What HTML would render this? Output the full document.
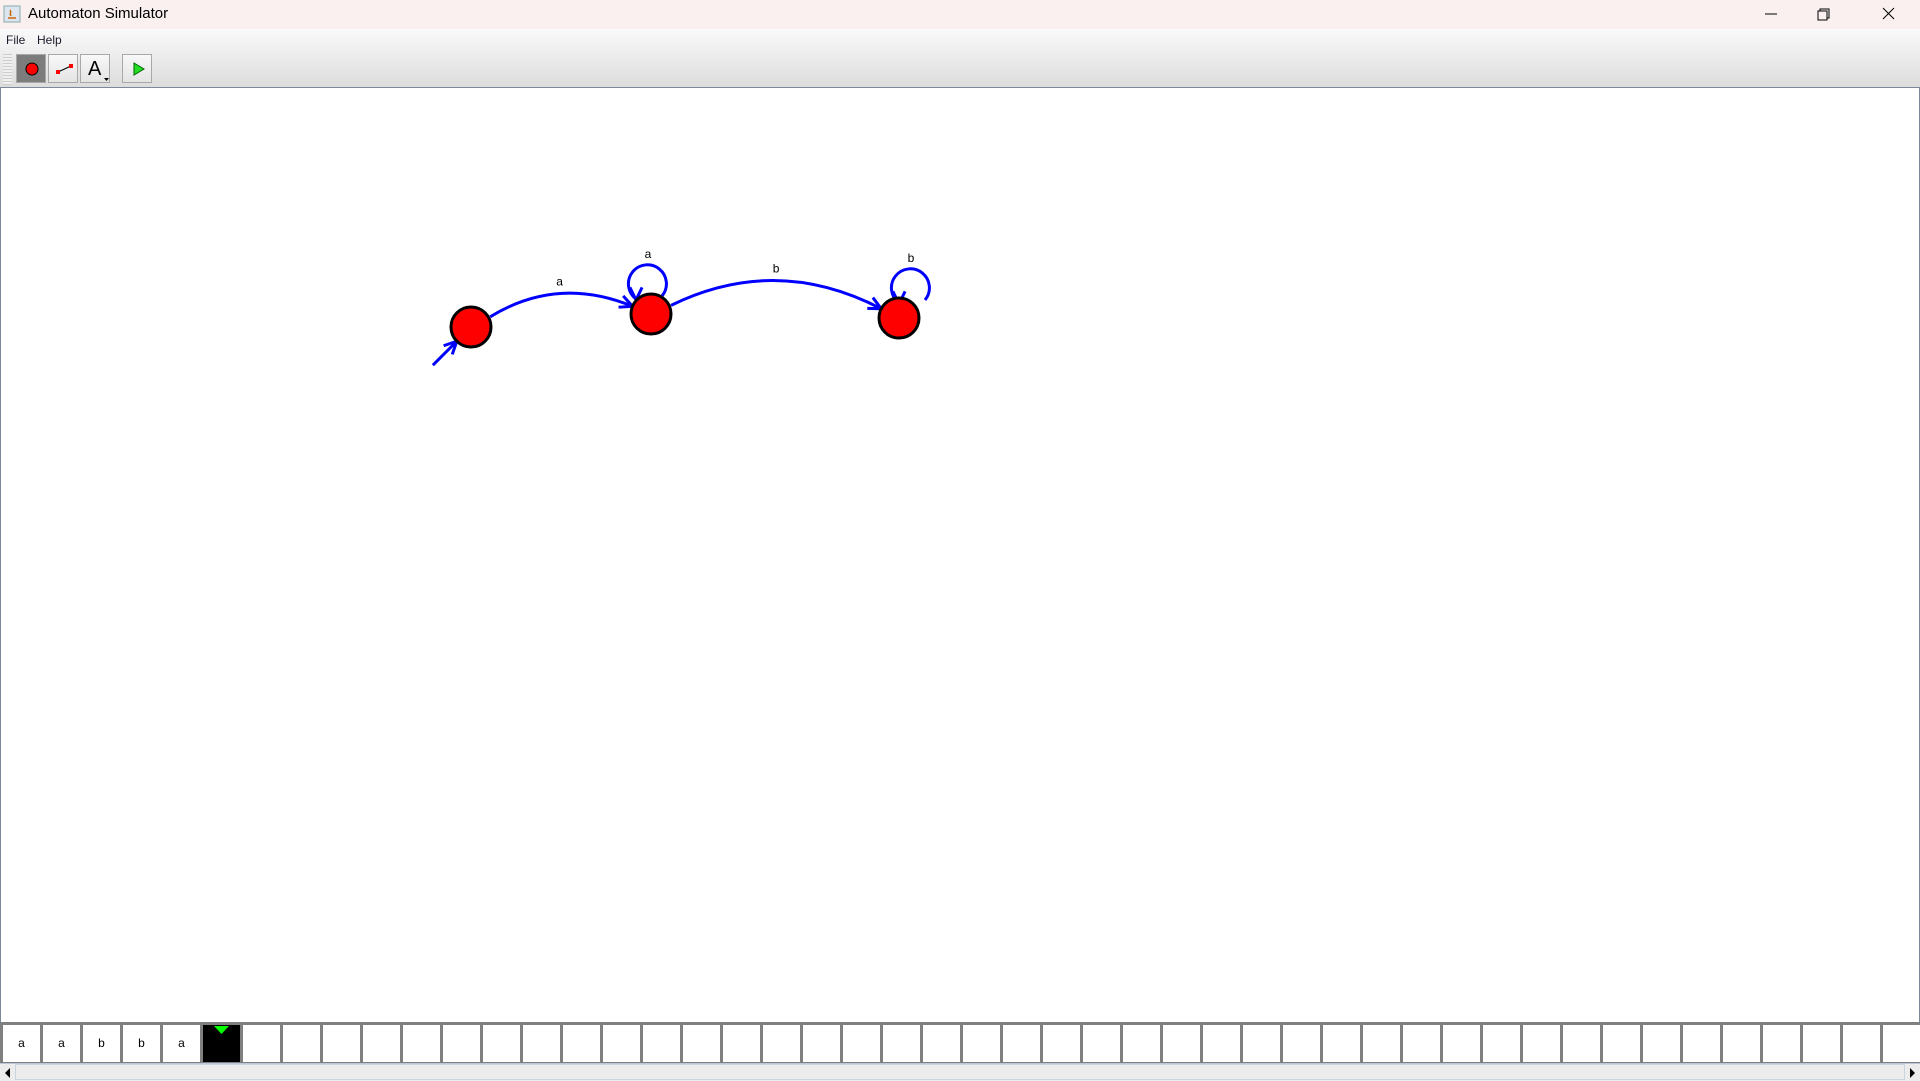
<!DOCTYPE html>
<html><head><meta charset="utf-8"><style>
html,body{margin:0;padding:0;width:1920px;height:1080px;overflow:hidden;background:#fff;font-family:"Liberation Sans",sans-serif}
#title{position:absolute;left:0;top:0;width:1920px;height:29px;background:#f9f0ef}
#title span{position:absolute;left:28px;top:5px;font-size:15px;color:#000}
#menu{position:absolute;left:0;top:29px;width:1920px;height:59px;background:linear-gradient(#fafafa,#dcdcdc)}
.mi{position:absolute;top:4px;font-size:12px;color:#1a1a2a}
.btn{position:absolute;top:54px;width:30px;height:29px;border:1px solid #a8a8a8;background:linear-gradient(#f8f8f8,#e4e4e4);box-sizing:border-box}
#canvas{position:absolute;left:0;top:87px;width:1918px;height:934px;border:1px solid #7a8a9a;border-right:2px solid #7a8a9a;background:#fff}
#tape{position:absolute;left:0;top:1022px;width:1920px;height:42px;background:#808080}
.cell{position:absolute;top:3px;width:37px;height:37px;background:#fff;font-size:12px;text-align:center;line-height:37px}
#scroll{position:absolute;left:0;top:1063px;width:1920px;height:17px;background:#ececec;border-top:1px solid #b8c8d8}
</style></head><body>
<div id="title">
 <svg style="position:absolute;left:3px;top:5px" width="18" height="18"><rect x="1" y="1" width="16" height="16" fill="#dde6f0" stroke="#8aa" /><path d="M5 13h8M7 5c2 2-1 3 1 6" stroke="#c60" fill="none" stroke-width="1.5"/></svg>
 <span>Automaton Simulator</span>
 <svg style="position:absolute;left:1760px;top:6px" width="160" height="20">
  <line x1="5" y1="8" x2="17" y2="8" stroke="#000"/>
  <g><rect x="58" y="5" width="9" height="9" fill="none" stroke="#000"/><path d="M60 5V3h9v9h-2" fill="none" stroke="#000"/></g>
  <path d="M123 2l11 11M134 2l-11 11" stroke="#000"/>
 </svg>
</div>
<div id="menu">
 <span class="mi" style="left:6px">File</span>
 <span class="mi" style="left:37px">Help</span>
 <div style="position:absolute;left:3px;top:25px;width:9px;height:31px;background:repeating-linear-gradient(#ccc 0 1px,#f0f0f0 1px 3px)"></div>
</div>
<div class="btn" style="left:16px;background:#7c7c7c"><svg width="30" height="29"><circle cx="15" cy="14" r="6" fill="#f00" stroke="#000"/></svg></div>
<div class="btn" style="left:48px"><svg width="30" height="29"><line x1="9" y1="17" x2="22" y2="11" stroke="#000"/><rect x="7" y="15" width="4" height="4" fill="#f00"/><rect x="20" y="9" width="4" height="4" fill="#f00"/></svg></div>
<div class="btn" style="left:80px"><span style="position:absolute;left:7px;top:3px;font-size:20px">A</span><svg style="position:absolute;left:0;top:0" width="30" height="29"><path d="M23 23h5l-2.5 3z" fill="#000"/></svg></div>
<div class="btn" style="left:122px"><svg width="30" height="29"><path d="M11 8l10 6-10 6z" fill="#2d2" stroke="#060"/></svg></div>
<div id="canvas"></div>
<svg id="diagram" style="position:absolute;left:0;top:0" width="1920" height="1020"></svg>
<div id="tape"></div>
<div id="scroll">
 <svg style="position:absolute;left:4px;top:4px" width="8" height="10"><path d="M6 0v10L1 5z" fill="#000"/></svg>
 <div style="position:absolute;left:15px;top:0;width:1890px;height:16px;border:1px solid #c8d4e0;box-sizing:border-box"></div>
 <svg style="position:absolute;left:1908px;top:4px" width="8" height="10"><path d="M2 0v10L7 5z" fill="#000"/></svg>
</div>
<script>
const stateX=[471,651,899];
const stateY=[327,314,318];
const edgeFrom=[0,1];
const edgeTo=[1,2];
const edgeLabels=['a','b'];
const edgeBend=[20,20];
const loopStates=[1,2];
const loopLabels=['a','b'];
const tapeSymbols=['a','a','b','b','a'];
const headPos=5;
const R=20;
const NS='http://www.w3.org/2000/svg';
const svg=document.getElementById('diagram');
function mk(t,a){const e=document.createElementNS(NS,t);for(const k in a)e.setAttribute(k,a[k]);svg.appendChild(e);return e;}
function arrowHead(tx,ty,ang){
  const p=mk('path',{d:`M${tx-14*Math.cos(ang-0.45)} ${ty-14*Math.sin(ang-0.45)}L${tx} ${ty}L${tx-14*Math.cos(ang+0.45)} ${ty-14*Math.sin(ang+0.45)}`,stroke:'#00f','stroke-width':3,fill:'none'});
  
  
}
(function(){const x=stateX[0],y=stateY[0];const a=Math.PI*0.75;
const sx=x+R*Math.cos(a),sy=y+R*Math.sin(a);
const l=mk('line',{x1:sx-24,y1:sy+24,x2:sx,y2:sy,stroke:'#00f','stroke-width':3});


arrowHead(sx,sy,-Math.PI/4);})();
edgeFrom.forEach((f,i)=>{
  const t=edgeTo[i];const x1=stateX[f],y1=stateY[f],x2=stateX[t],y2=stateY[t];
  const dx=x2-x1,dy=y2-y1,d=Math.hypot(dx,dy),ux=dx/d,uy=dy/d;
  const nx=uy,ny=-ux;const b=edgeBend[i]*d/160;
  const mx=(x1+x2)/2+nx*b*2,my=(y1+y2)/2+ny*b*2;
  let a1=Math.atan2(my-y1,mx-x1),a2=Math.atan2(y2-my,x2-mx);
  const sx=x1+R*Math.cos(a1)+2,sy=y1+R*Math.sin(a1),ex=x2-R*Math.cos(a2),ey=y2-R*Math.sin(a2);
  const p=mk('path',{d:`M${sx} ${sy}Q${mx} ${my} ${ex} ${ey}`,stroke:'#00f','stroke-width':3,fill:'none'});
  
  
  arrowHead(ex,ey,a2);
  const tx=mk('text',{x:(sx+ex)/2+(mx-(sx+ex)/2)/2,y:(sy+ey)/2+(my-(sy+ey)/2)/2-8,'font-size':12,'text-anchor':'middle','font-family':'Liberation Sans, sans-serif'});
  tx.textContent=edgeLabels[i];
  
  
});
loopStates.forEach((s,i)=>{
  const cx=stateX[s]+(i?12:-3),cy=stateY[s]-32;
  const c=mk('path',{d:`M${cx-12} ${cy+17}A19 19 0 1 1 ${cx+14} ${cy+14}`,stroke:'#00f','stroke-width':3,fill:'none'});
  
  
  arrowHead(cx-12,cy+18,Math.PI/2);
  const tx=mk('text',{x:cx,y:cy-24,'font-size':12,'text-anchor':'middle','font-family':'Liberation Sans, sans-serif'});
  tx.textContent=loopLabels[i];
  
  
});
stateX.forEach((x,i)=>{
  const c=mk('circle',{cx:x,cy:stateY[i],r:R,fill:'#f00',stroke:'#000','stroke-width':3});
  
  
});
const tape=document.getElementById('tape');
for(let i=0;i<48;i++){
  const c=document.createElement('div');c.className='cell';
  c.style.left=(i*40+3)+'px';
  
  
  if(i<tapeSymbols.length)c.textContent=tapeSymbols[i];
  if(i===headPos){c.style.background='#000';
    c.innerHTML='<svg width="37" height="12" style="position:absolute;left:0;top:0"><path d="M11 1h15l-7.5 8z" fill="#0f0"/></svg>';}
  tape.appendChild(c);
}
</script>
</body></html>
